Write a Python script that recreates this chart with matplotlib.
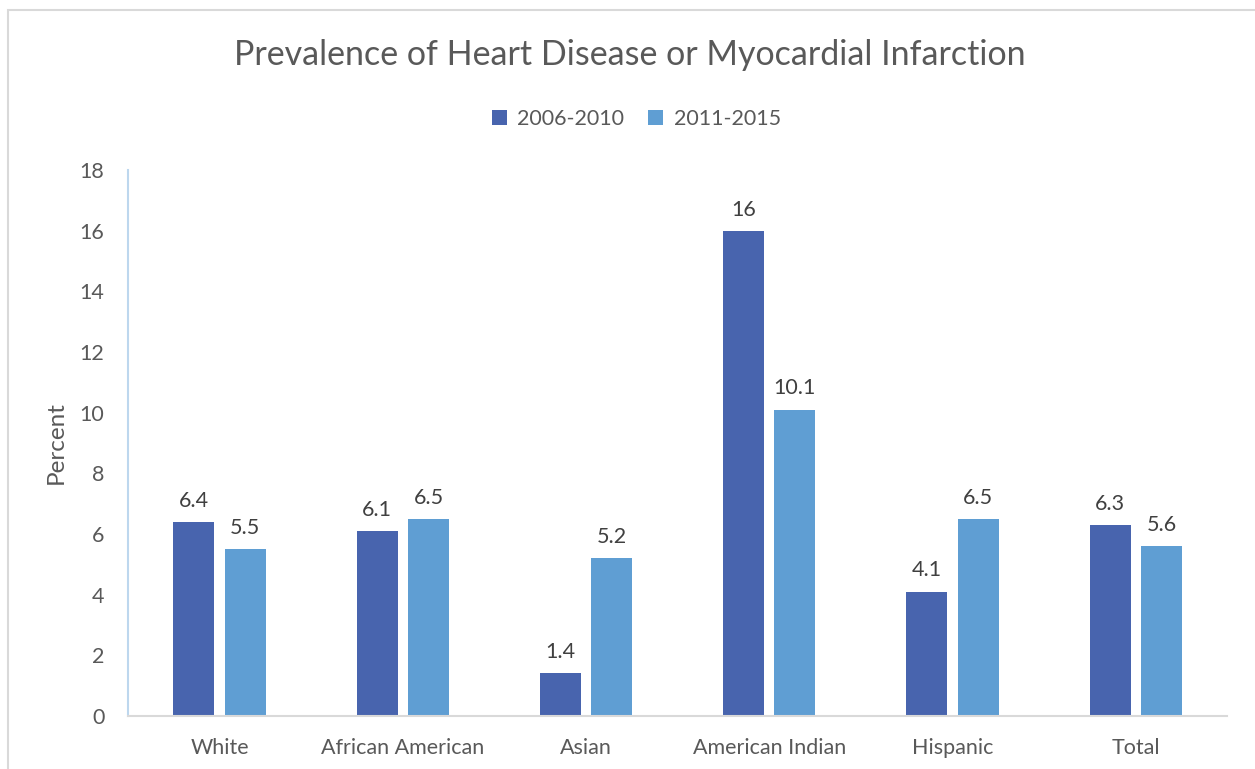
import numpy as np
import matplotlib
matplotlib.use('Agg')
import matplotlib.pyplot as plt
from matplotlib.patches import Rectangle

categories = ['White', 'African American', 'Asian', 'American Indian', 'Hispanic', 'Total']
series_names = ['2006-2010', '2011-2015']
vals_2006 = [6.4, 6.1, 1.4, 16, 4.1, 6.3]
vals_2011 = [5.5, 6.5, 5.2, 10.1, 6.5, 5.6]
labels_2006 = ['6.4', '6.1', '1.4', '16', '4.1', '6.3']
labels_2011 = ['5.5', '6.5', '5.2', '10.1', '6.5', '5.6']

plt.rcParams['font.family'] = ['Lato', 'DejaVu Sans']
txt = '#595959'
c1 = '#4864AE'
c2 = '#5F9ED3'

fig = plt.figure(figsize=[12.55, 7.69], dpi=100)
ax = fig.add_axes([0.102, 0.069, 0.876, 0.710])

x = np.arange(len(categories))
w = 0.224
off = 0.14
b1 = ax.bar(x - off, vals_2006, w, color=c1, label=series_names[0])
b2 = ax.bar(x + off, vals_2011, w, color=c2, label=series_names[1])

# value labels above each bar
for bars, labs in ((b1, labels_2006), (b2, labels_2011)):
    for r, lab in zip(bars, labs):
        ax.annotate(lab, (r.get_x() + r.get_width() / 2, r.get_height()),
                    xytext=(0, 8), textcoords='offset points',
                    ha='center', va='bottom', fontsize=15.5, color='#404040')

ax.set_xlim(-0.5, len(categories) - 0.5)
ax.set_ylim(0, 18)
ax.set_yticks(np.arange(0, 19, 2))
ax.set_xticks(x)
ax.set_xticklabels(categories)
ax.tick_params(length=0, labelsize=15.5, colors=txt)
ax.tick_params(axis='y', pad=17)
ax.tick_params(axis='x', pad=16)
for s in ('top', 'right'):
    ax.spines[s].set_visible(False)
ax.spines['left'].set_color('#BDD7EE')
ax.spines['left'].set_linewidth(1.5)
ax.spines['bottom'].set_color('#D9D9D9')
ax.spines['bottom'].set_linewidth(1.5)
ax.set_ylabel('Percent', fontsize=17.5, color=txt, labelpad=9)

fig.text(0.502, 0.928, 'Prevalence of Heart Disease or Myocardial Infarction',
         ha='center', va='center', fontsize=24.5, color=txt)
fig.legend(loc='center', bbox_to_anchor=(0.507, 0.845), ncol=2, frameon=False,
           fontsize=15.5, labelcolor=txt, handlelength=0.7, handleheight=0.7,
           columnspacing=1.1, handletextpad=0.5)

# chart area border
fig.add_artist(Rectangle((8 / 1255, -0.1), 1.2, 1.1 - 10 / 769, transform=fig.transFigure,
                         fill=False, edgecolor='#D9D9D9', linewidth=1.5))

fig.savefig('out.png', dpi=100)
